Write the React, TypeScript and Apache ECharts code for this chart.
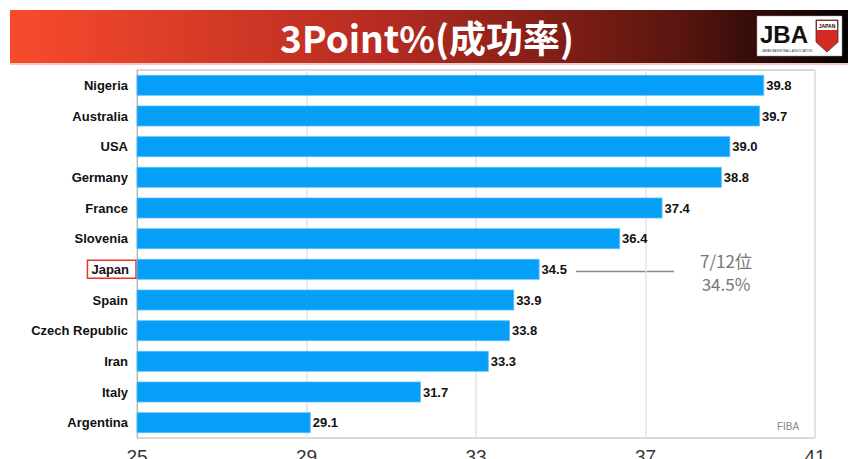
import React, { useEffect, useRef } from "react";
import * as echarts from "echarts";

const countries = ["Nigeria", "Australia", "USA", "Germany", "France", "Slovenia", "Japan", "Spain", "Czech Republic", "Iran", "Italy", "Argentina"];
const values = [39.8, 39.7, 39.0, 38.8, 37.4, 36.4, 34.5, 33.9, 33.8, 33.3, 31.7, 29.1];
const xTicks = { min: 25, max: 41, interval: 4 };
const titleText = "3Point%(成功率)";
const noteLines = ["7/12位", "34.5%"];
const highlight = "Japan";

export default function App() {
  const ref = useRef<HTMLDivElement>(null);
  useEffect(() => {
    if (!ref.current) return;
    const chart = echarts.init(ref.current, null, { renderer: "svg" });
    chart.setOption({
      animation: false,
      backgroundColor: "#ffffff",
      grid: { left: 137, right: 39, top: 70, bottom: 21, outerBoundsMode: "none", containLabel: false, show: true, borderColor: "#b4b4b4", borderWidth: 1, backgroundColor: "transparent" },
      xAxis: {
        type: "value",
        min: xTicks.min,
        max: xTicks.max,
        interval: xTicks.interval,
        axisLine: { show: false },
        axisTick: { show: false },
        splitLine: { show: true, lineStyle: { color: "#e4e4e4", width: 1.5 } },
        axisLabel: { fontSize: 19, color: "#333", margin: 9, fontFamily: "Liberation Sans, Arial, sans-serif", verticalAlign: "top", showMaxLabel: true, showMinLabel: true },
      },
      yAxis: {
        type: "category",
        inverse: true,
        data: countries,
        axisLine: { show: true, lineStyle: { color: "#b4b4b4" } },
        axisTick: { show: false },
        axisLabel: {
          margin: 1,
          formatter: (v: string) => (v === highlight ? `{j|${v}}` : `{n|${v}}`),
          rich: {
            n: { fontSize: 13, fontWeight: "bold", color: "#111", fontFamily: "Liberation Sans, Arial, sans-serif", padding: [0, 8, 0, 0] },
            j: { fontSize: 13, fontWeight: "bold", color: "#111", fontFamily: "Liberation Sans, Arial, sans-serif", padding: [3, 7, 2, 4], borderColor: "#e8342a", borderWidth: 1.5 },
          },
        },
      },
      series: [
        {
          type: "bar",
          data: values,
          barCategoryGap: "32%",
          itemStyle: { color: "#069ff8", borderColor: "#5cc0fb", borderWidth: 0.8 },
          label: {
            show: true,
            position: "right",
            distance: 2,
            fontSize: 13,
            fontWeight: "bold",
            color: "#111",
            fontFamily: "Liberation Sans, Arial, sans-serif",
            formatter: (p: any) => Number(p.value).toFixed(1),
          },
        },
      ],
      graphic: [
        {
          type: "rect",
          shape: { x: 10, y: 10, width: 838, height: 53 },
          style: {
            fill: new echarts.graphic.LinearGradient(0, 0, 1, 0, [
              { offset: 0, color: "#f84b2d" },
              { offset: 0.45, color: "#b52b21" },
              { offset: 0.8, color: "#5a150f" },
              { offset: 1, color: "#050101" },
            ]),
          },
        },
        {
          type: "rect",
          shape: { x: 10, y: 63, width: 838, height: 2 },
          style: { fill: "#f3c8c0" },
        },
        {
          type: "text",
          x: 427,
          y: 37,
          style: { text: titleText, fill: "#ffffff", fontSize: 37, fontWeight: "bold", fontFamily: "Noto Sans CJK JP, Noto Sans, sans-serif", align: "center", verticalAlign: "middle" },
        },
        {
          type: "group",
          children: [
            { type: "rect", shape: { x: 757, y: 16, width: 85, height: 40 }, style: { fill: "#ffffff", stroke: "#999", lineWidth: 0.5 } },
            { type: "text", x: 760, y: 34, style: { text: "JBA", fill: "#111", fontSize: 24, fontWeight: "bold", fontFamily: "Liberation Sans Narrow, Liberation Sans, sans-serif", verticalAlign: "middle" } },
            { type: "polygon", shape: { points: [[816, 20], [838, 20], [838, 42], [827, 52], [816, 42]] }, style: { fill: "#d42a22", stroke: "#333", lineWidth: 0.8 } },
            { type: "rect", shape: { x: 817, y: 21, width: 20, height: 9 }, style: { fill: "#ffffff" } },
            { type: "text", x: 827, y: 25.5, style: { text: "JAPAN", fill: "#111", fontSize: 5, fontWeight: "bold", align: "center", verticalAlign: "middle", fontFamily: "Liberation Sans, sans-serif" } },
            { type: "text", x: 787, y: 51, style: { text: "JAPAN BASKETBALL ASSOCIATION", fill: "#333", fontSize: 3, align: "center", verticalAlign: "middle", fontFamily: "Liberation Sans, sans-serif" } },
          ],
        },
        {
          type: "line",
          shape: { x1: 576, y1: 271.5, x2: 674, y2: 271.5 },
          style: { stroke: "#8a8a8a", lineWidth: 1.5 },
        },
        {
          type: "text",
          x: 726,
          y: 260,
          style: { text: noteLines[0], fill: "#777", fontSize: 17, fontFamily: "Noto Sans CJK JP, sans-serif", align: "center", verticalAlign: "middle" },
        },
        {
          type: "text",
          x: 726,
          y: 283,
          style: { text: noteLines[1], fill: "#777", fontSize: 17, fontFamily: "Noto Sans CJK JP, sans-serif", align: "center", verticalAlign: "middle" },
        },
        {
          type: "text",
          x: 788,
          y: 426,
          style: { text: "FIBA", fill: "#888", fontSize: 10, fontFamily: "Liberation Sans, sans-serif", align: "center", verticalAlign: "middle" },
        },
      ],
    });
    return () => chart.dispose();
  }, []);
  return <div ref={ref} style={{ position: "fixed", left: 0, top: 0, width: 854, height: 459 }} />;
}
